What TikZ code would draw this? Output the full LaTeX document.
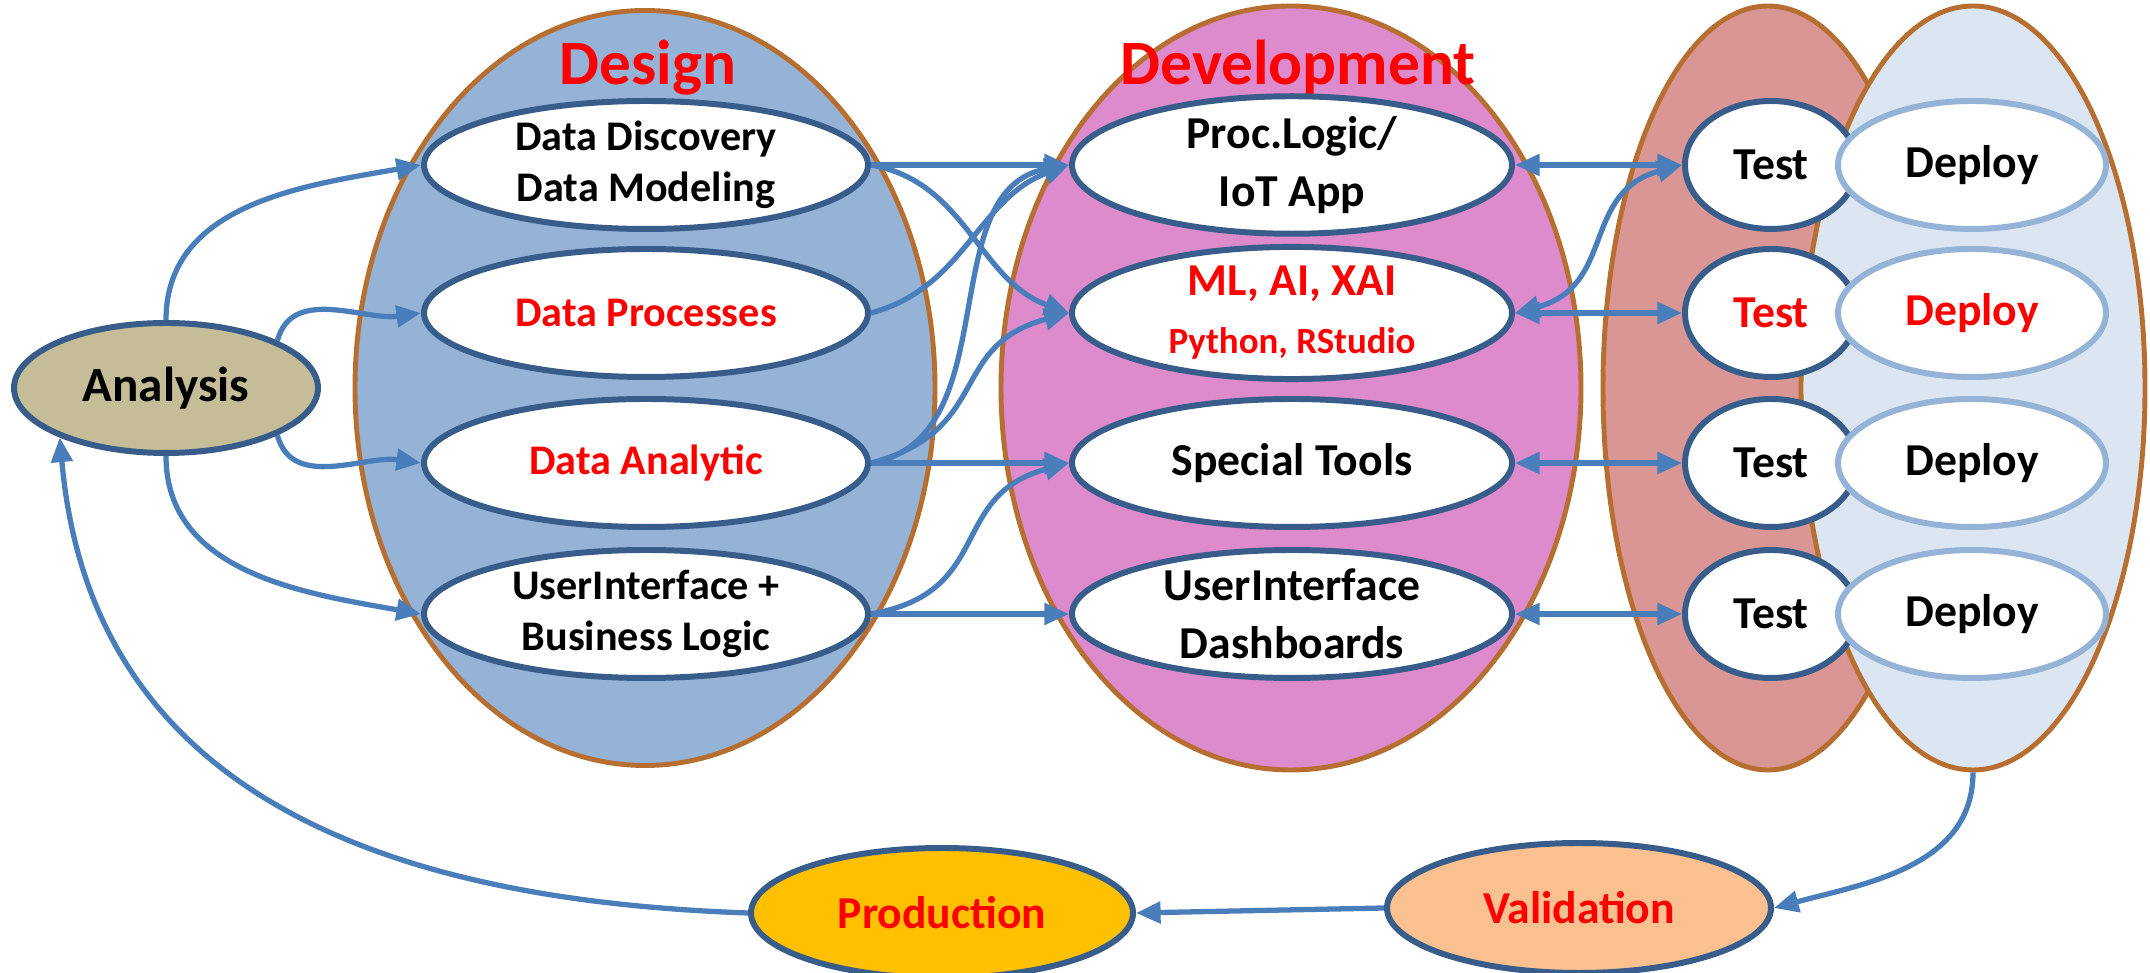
\documentclass[tikz,border=0pt]{standalone}
\usepackage{fontspec}
\setmainfont{Carlito}
\usepackage{tikz}
\usetikzlibrary{arrows.meta,shapes.geometric,positioning}
\definecolor{flowBlue}   {RGB}{74,  126, 187}
\definecolor{nodeBlue}   {RGB}{56,   93, 138}
\definecolor{zoneBrown}  {RGB}{182, 110,  49}
\definecolor{designFill} {RGB}{149, 179, 215}
\definecolor{devFill}    {RGB}{221, 139, 204}
\definecolor{testFill}   {RGB}{217, 150, 148}
\definecolor{deployFill} {RGB}{220, 230, 242}
\definecolor{anaFill}    {RGB}{196, 189, 151}
\definecolor{prodFill}   {RGB}{255, 192,   0}
\definecolor{valFill}    {RGB}{250, 192, 144}
\definecolor{txtRed}     {RGB}{255,   0,   0}
\tikzset{
  zone/.style={ellipse,draw=zoneBrown,line width=1.4pt,inner sep=0pt},
  zonetitle/.style={anchor=base,text=txtRed,font=\fontsize{18}{20}\selectfont\bfseries},
  task/.style={ellipse,draw=nodeBlue,fill=white,line width=1.7pt,inner sep=0pt,
    align=center,minimum height=1.28cm},
  dsg/.style={task,minimum width=4.44cm,font=\fontsize{12}{14.5}\selectfont\bfseries},
  dev/.style={task,minimum width=4.40cm,font=\fontsize{13}{16.5}\selectfont\bfseries},
  phase/.style={task,minimum width=3.84cm,minimum height=1.30cm,
    font=\fontsize{13}{15}\selectfont\bfseries},
  flow/.style={flowBlue,line width=1.5pt,-{Triangle[length=7pt,width=6pt]}},
  duplex/.style={flow,{Triangle[length=7pt,width=6pt]}-{Triangle[length=7pt,width=6pt]}},
}
\begin{document}
\begin{tikzpicture}
  \useasboundingbox (0,0) rectangle (21.5,9.73);
  % Zones
  \node[zone,fill=designFill,minimum width=5.8cm,minimum height=7.55cm] (design) at (6.45,5.85) {};
  \node[zone,fill=devFill,minimum width=5.8cm,minimum height=7.64cm] (devel) at (12.91,5.85) {};
  \node[zone,fill=testFill,minimum width=3.3cm,minimum height=7.64cm] (testzone) at (17.68,5.85) {};
  \node[zone,fill=deployFill,minimum width=3.44cm,minimum height=7.64cm] (deployzone) at (19.73,5.85) {};
  \node[zonetitle] (designlbl) at (6.48,8.88) {Design};
  \node[zonetitle] (devlbl) at (12.98,8.88) {Development};
  % Design
  \node[dsg] (disc) at (6.46,8.08) {Data Discovery\\Data Modeling};
  \node[dsg,text=txtRed] (proc) at (6.46,6.60) {Data Processes};
  \node[dsg,text=txtRed] (anal) at (6.46,5.10) {Data Analytic};
  \node[dsg] (uibl) at (6.46,3.59) {UserInterface +\\Business Logic};
  % Development
  \node[dev] (iot) at (12.92,8.08) {Proc.Logic/\\IoT App};
  \node[dev,text=txtRed] (ml) at (12.92,6.60)
    {ML, AI, XAI\\{\fontsize{10.5}{12}\selectfont Python, RStudio}};
  \node[dev] (tools) at (12.92,5.10) {Special Tools};
  \node[dev] (dash) at (12.92,3.59) {UserInterface\\Dashboards};
  % Test and deploy
  \foreach \y/\col/\n in {8.08/black/1,6.60/txtRed/2,5.10/black/3,3.59/black/4}{
    \node[dev,minimum width=1.72cm,text=\col] (test\n) at (17.71,\y) {Test};
    \node[dev,minimum width=2.68cm,draw=designFill,text=\col] (deploy\n) at (19.72,\y) {Deploy};
  }
  % Cycle
  \node[phase,fill=anaFill,minimum width=3.04cm,font=\fontsize{14}{16}\selectfont\bfseries]
    (ana) at (1.66,5.85) {Analysis};
  \node[phase,fill=prodFill,text=txtRed,minimum width=3.82cm] (prod) at (9.42,0.60) {Production};
  \node[phase,fill=valFill,text=txtRed] (valid) at (15.79,0.65) {Validation};
  % Arrows
  \draw[flow] (ana.north) to[out=90,in=190] (disc.west);
  \draw[flow] (ana.23) to[out=75,in=188] (proc.west);
  \draw[flow] (ana.-23) to[out=-75,in=172] (anal.west);
  \draw[flow] (ana.south) to[out=-90,in=170] (uibl.west);
  \draw[flow] (prod.west) to[out=178,in=-85,looseness=1.1] (ana.205);
  \draw[flow] (valid.west) -- (prod.east);
  \draw[flow] (deployzone.south) to[out=-90,in=15] (valid.east);
  \draw[flow] (disc.east) -- (iot.west);
  \draw[flow] (disc.east) to[out=-10,in=160] (ml.west);
  \draw[flow] (proc.east) to[out=15,in=200] (iot.west);
  \draw[flow] (anal.east) to[out=10,in=190] (iot.west);
  \draw[flow] (anal.east) to[out=15,in=195,looseness=1.3] (ml.west);
  \draw[flow] (anal.east) -- (tools.west);
  \draw[flow] (uibl.east) to[out=10,in=195,looseness=1.3] (tools.west);
  \draw[flow] (uibl.east) -- (dash.west);
  \draw[duplex] (iot.east) -- (test1.west);
  \draw[duplex] (ml.east) -- (test2.west);
  \draw[duplex] (ml.east) to[out=15,in=195,looseness=1.2] (test1.west);
  \draw[duplex] (tools.east) -- (test3.west);
  \draw[duplex] (dash.east) -- (test4.west);
\end{tikzpicture}
\end{document}
